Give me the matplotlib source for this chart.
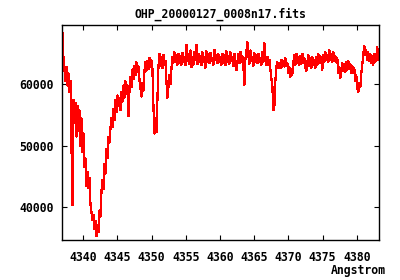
import numpy as np
import matplotlib
matplotlib.use("Agg")
import matplotlib.pyplot as plt

title = "OHP_20000127_0008n17.fits"
xlabel = "Angstrom"
crval = 4336.95   # wavelength of first sample (Angstrom)
cdelt = 0.1462    # wavelength step (Angstrom)
flux = [
    68300, 64200, 62500, 60500, 62800, 59800, 61800, 58800, 60600, 51000,
    40400, 57500, 53800, 57000, 51500, 56500, 52500, 55800, 50000, 54500,
    49000, 52000, 46500, 48000, 43500, 45800, 43200, 44800, 40500, 39200,
    38000, 38800, 36500, 37800, 35300, 37200, 36000, 39500, 38500, 42500,
    44500, 43000, 47000, 45500, 49500, 48000, 51500, 50500, 52800, 54500,
    53000, 56000, 54200, 57500, 55500, 58200, 56500, 57800, 55800, 58800,
    57200, 59800, 57800, 60500, 58500, 59800, 54800, 58800, 61200, 59500,
    62400, 60800, 63000, 61500, 63600, 62000, 62900, 60800, 59500, 58000,
    60200, 59000, 62000, 63600, 62200, 63800, 62500, 64300, 62800, 63900,
    62500, 56500, 52000, 54500, 52200, 57500, 62800, 65000, 63000, 64500,
    62600, 64800, 63200, 63800, 60500, 57800, 59500, 61500, 60000, 62500,
    64500, 63500, 65200, 63600, 64800, 63200, 65000, 63500, 64600, 63200,
    65100, 63600, 64400, 63100, 66400, 63800, 64900, 63300, 65500, 62800,
    64500, 63200, 65300, 63900, 66400, 63300, 65000, 63600, 64600, 63100,
    65200, 63700, 64400, 62700, 65400, 63600, 64900, 63400, 65100, 63800,
    64300, 63200, 65600, 63900, 64700, 63400, 64900, 63600, 64500, 63200,
    65000, 63500, 64800, 63100, 65400, 63700, 64600, 63300, 65200, 63800,
    64400, 63000, 65000, 63200, 62300, 63600, 64900, 63400, 65300, 63700,
    64600, 63200, 59900, 64000, 65200, 66900, 64800, 63300, 65500, 63800,
    64500, 63000, 65100, 63700, 64700, 63400, 65000, 63600, 64300, 63100,
    65200, 63700, 66700, 64200, 63200, 64500, 63100, 64000, 62500, 61000,
    59800, 55800, 56500, 60500, 62800, 63600, 62700, 63400, 62600, 64000,
    62800, 63800, 62900, 64200, 63000, 63500, 61800, 62800, 61200, 62500,
    61600, 63500, 64800, 63200, 65000, 63400, 64400, 63100, 64600, 63300,
    65000, 63500, 64200, 62800, 62100, 63600, 64700, 63000, 64300, 62700,
    64500, 63100, 64000, 62600, 64400, 63200, 65000, 63500, 64600, 63800,
    62400, 64800, 63600, 65200, 63900, 64700, 63600, 65600, 63900, 64900,
    63700, 65300, 63800, 64600, 63600, 64200, 61800, 62800, 61000, 62300,
    63500, 62200, 63300, 62000, 63600, 62400, 63800, 62500, 63300, 61800,
    63000, 61900, 62600, 60500, 61500, 59300, 58800, 60200, 59500, 61800,
    63200, 64800, 66200, 64800, 65500, 64000, 65200, 63800, 64900, 63400,
    64600, 63200, 65000, 63600, 64400, 66000, 64000, 64800,
]
xticks = [4340, 4345, 4350, 4355, 4360, 4365, 4370, 4375, 4380]
yticks = [40000, 50000, 60000]

wave = crval + cdelt * np.arange(len(flux))

font = dict(family="DejaVu Sans Mono", weight="bold", size=8.3)

fig = plt.figure(figsize=(4.0, 2.8), dpi=100)
ax = fig.add_axes([0.1558, 0.1429, 0.7925, 0.7678])
ax.plot(wave, flux, color="#ff0000", linewidth=0.9, antialiased=False)
ax.set_xlim(4336.93, 4383.3)
ax.set_ylim(34700, 69640)
ax.set_xticks(xticks)
ax.set_yticks(yticks)
ax.set_xticklabels([str(t) for t in xticks], fontdict=font)
ax.set_yticklabels([str(t) for t in yticks], fontdict=font)
ax.tick_params(axis="x", pad=8)
ax.tick_params(axis="y", pad=6)
ax.tick_params(direction="in", top=True, right=True, length=3.5, width=0.8,
               colors="black")
for s in ax.spines.values():
    s.set_linewidth(1.0)
fig.text(0.55, 0.95, title, ha="center", va="center", **font)
fig.text(0.965, 0.035, xlabel, ha="right", va="center", **font)
fig.savefig("out.png", dpi=100)
